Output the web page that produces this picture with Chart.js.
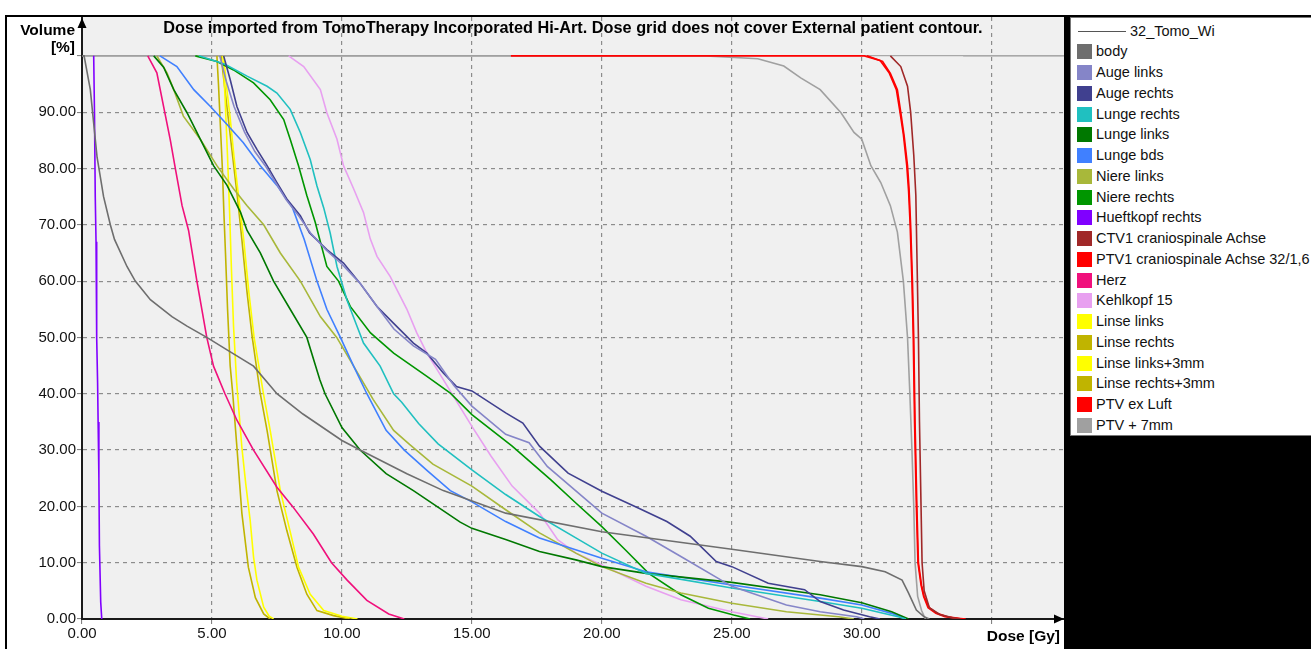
<!DOCTYPE html>
<html><head><meta charset="utf-8">
<script src="https://cdn.jsdelivr.net/npm/chart.js@4.4.0/dist/chart.umd.min.js"></script>
<style>
html,body{margin:0;padding:0;background:#fff;width:1311px;height:649px;overflow:hidden;position:relative;font-family:"Liberation Sans",Arial,sans-serif;}
#c{position:absolute;left:0;top:0;}
.frame{position:absolute;background:#000;}
#legend{position:absolute;left:1070px;top:17px;width:241px;height:419px;background:#fff;border:1px solid #777;border-right:none;box-sizing:border-box;overflow:hidden;}
.row{position:absolute;left:0;width:300px;height:20px;white-space:nowrap;font-size:14.5px;line-height:20px;color:#111;}
.sw{position:absolute;left:6px;top:3px;width:15px;height:15px}
.ln{position:absolute;left:7px;top:10px;width:48px;height:1px;background:#555}
.txt{position:absolute;left:25px;top:0}
</style></head><body>
<canvas id="c" width="1311" height="649"></canvas>
<div class="frame" style="left:5px;top:15px;width:1306px;height:2px"></div>
<div class="frame" style="left:5px;top:15px;width:2px;height:634px"></div>
<div class="frame" style="left:1064px;top:15px;width:6px;height:634px"></div>
<div class="frame" style="left:1064px;top:436px;width:247px;height:213px"></div>
<div id="legend"></div>
<script>
// ---- tick labels / axes ----
const xTicks = [0, 5, 10, 15, 20, 25, 30, 35];
const yTicks = [0, 10, 20, 30, 40, 50, 60, 70, 80, 90, 100];
const chartTitle = "Dose imported from TomoTherapy Incorporated Hi-Art. Dose grid does not cover External patient contour.";
const planName = "32_Tomo_Wi";

// ---- structure names & colours ----
const names = ["body","Auge links","Auge rechts","Lunge rechts","Lunge links","Lunge bds","Niere links","Niere rechts","Hueftkopf rechts","CTV1 craniospinale Achse","PTV1 craniospinale Achse 32/1,6","Herz","Kehlkopf 15","Linse links","Linse rechts","Linse links+3mm","Linse rechts+3mm","PTV ex Luft","PTV + 7mm"];
const colors = ["#6e6e6e","#8585c8","#40408f","#20c0c0","#007800","#4080ff","#a8b83a","#009600","#8000ff","#a02828","#ff0000","#f0107c","#e8a0f0","#ffff00","#c0b400","#ffff00","#c0b400","#ff0000","#a0a0a0"];

// ---- DVH curves: dose [Gy] / volume [%] ----
const bodyDose = [0,0.08,0.32,0.45,0.58,0.83,1.09,1.25,1.73,2.05,2.63,3.46,4.04,4.8,5.58,6.6,7.5,8.5,10.0,10.7,12.5,13.9,16.3,20.0,25.0,28.4,30.0,30.9,31.55,31.8,32.1,32.4,32.6];
const bodyVol  = [100,100,94,88,82,75,70,67.4,62.6,60,56.7,53.7,52,50,47.8,44.9,40,36.4,31.7,30,25.8,22.8,18.8,15.5,12.4,10.2,9.3,8.4,6.9,4.6,1.6,0.4,0];

const augeLDose = [5.3,5.55,5.85,6.25,6.65,7.05,7.45,7.85,8.35,8.8,9.4,10.0,10.7,11.35,12.0,12.75,13.6,14.3,15,16.3,17.2,17.9,20,21.7,23.04,25,27.1,28.4,29.8,30.1];
const augeLVol  = [100,95.5,91,86.5,83,80.5,77.5,74.5,71.5,68.5,65.5,63,59.6,55.5,51.5,48.5,46.1,41.5,37.8,32.8,31.3,27.1,18.8,14.7,11.1,5.8,2.5,1.3,0.4,0];

const augeRDose = [5.45,5.7,5.96,6.35,6.73,7.12,7.5,7.88,8.4,8.75,9.42,10.06,10.7,11.35,11.99,12.75,13.27,13.9,14.4,15,16.3,16.96,17.6,18.7,20,21.4,22.5,23.4,24.4,25,26.4,27.8,28.4,29.3,30.3,30.7];
const augeRVol  = [100,95.8,91,86.4,83.4,80.5,77.5,74.6,71.6,68.6,65.6,63.2,59.6,55.5,52.5,49,47.2,43.7,41.3,40.5,36.6,34.8,30.7,25.9,22.7,19.7,17.3,14.7,10.2,9.3,6.35,5.2,3.1,1.6,0.4,0];

const lungeRDose = [4.5,5.5,6.35,7.12,7.5,8.01,8.4,8.78,9.04,9.3,9.55,9.81,10.19,10.58,10.83,11.47,11.99,12.3,12.95,13.7,15,16.3,17.6,19,20,21.7,25,28.4,30,31.4,31.7];
const lungeRVol  = [100,98.5,96.4,94.6,93.4,90.5,86.4,81.6,76.9,73,68.5,62.6,56.7,52,49,44.9,40,38.5,34.7,31.1,26.5,22.1,18.2,14.4,11.7,8.1,5.5,3.1,1.9,0.4,0];

const lungeLDose = [2.76,3.14,3.53,4.04,4.55,5.06,5.58,6.1,6.35,6.86,7.37,8.01,8.65,9.15,9.35,10,10.7,11.7,12.75,13.65,14.55,15,16.3,17.6,19,20,21.7,25,28.4,30,31.15,31.8];
const lungeLVol  = [100,98,94,89.9,85.2,80.5,77,72.2,69,65,60,55,50,42.5,40,34,30,25.8,22.8,20,17.2,16.1,14.1,12,10.5,9.3,8.1,6.5,4.3,2.9,1.3,0];

const lungeBDose = [3.0,3.65,4.3,4.94,5.58,6.2,6.86,7.5,8.1,8.55,9.04,9.42,9.94,10.45,10.96,11.7,12.4,13.27,14.17,15,16.3,17.6,20,21.7,25,28.4,30,31.15,31.7];
const lungeBVol  = [100,98.1,94,91,87.8,84.6,80.5,77,73,67.4,60,55,50,44.9,40,33.5,30,26.4,22.8,20.8,17.3,14.4,10.8,8.4,6.05,3.7,2.5,1.0,0];

const niereLDose = [2.88,3.27,3.53,3.9,4.55,5.19,5.83,6.35,6.99,7.63,8.4,9.17,9.8,10.45,11.2,11.99,12.6,13.5,15,16.3,17.6,19,20,21.7,23.04,25,27.1,29.1,29.7];
const niereLVol  = [100,97,94,89.3,85.2,80.5,76.4,73.4,70,65,60,53.7,50,44.9,39,33.5,31,27.5,23.6,19.4,15.3,11.7,9.3,6.35,4.6,2.8,1.3,0.4,0];

const niereRDose = [4.36,5.19,5.83,6.6,7.24,7.76,8.01,8.33,8.65,8.97,9.42,9.87,10.32,11.1,11.99,13.27,14.17,15,16.55,18.04,19,20,20.9,21.8,23.04,24.1,25.07,25.7];
const niereRVol  = [100,99,97.5,95.2,92.2,88.7,85.2,80.5,75.2,70.5,62.6,60,55.5,50.8,47.2,43.1,40.1,36.3,30.7,24.7,20.6,16.4,12.3,8.1,4.3,1.9,0.7,0];

const hueftDose = [0.45,0.48,0.51,0.54,0.56,0.57,0.6,0.62,0.65,0.67,0.72,0.76];
const hueftVol  = [100,90,75,67,60,50,42,35,25,13,3,0];

const ctvDose = [31.1,31.5,31.76,31.88,32.0,32.08,32.12,32.18,32.22,32.28,32.32,32.4,32.6,33.0,33.5,33.8];
const ctvVol  = [100,98.1,94.6,90,82.4,75.2,65,50,35,20,10,5,2,0.8,0.2,0];

const ptv1Dose = [30.2,30.8,31.1,31.37,31.5,31.63,31.76,31.82,31.88,31.95,32.0,32.05,32.12,32.18,32.3,32.4,32.6,32.9,33.3,33.8,34.0];
const ptv1Vol  = [100,99,96.9,94,90,85.8,80.5,76.4,70,60,50,35,20,10,6,4,2,1,0.4,0.1,0];

const herzDose = [2.53,2.88,3.14,3.4,3.59,3.85,4.1,4.42,4.8,5.06,5.5,5.96,6.6,7.5,8.1,8.9,9.6,10.2,10.96,11.8,12.4];
const herzVol  = [100,97,91,85,80,73.4,69,60,50,44.9,40,35.3,30,23.4,20,15.1,10,6.9,3.3,0.9,0];

const kehlDose = [7.95,8.53,9.17,9.42,9.81,10.06,10.45,10.83,11.09,11.35,11.86,12.5,12.88,13.27,13.9,14.3,15,15.74,16.55,17.6,18.3,19,20,21.7,23.04,25,26.4];
const kehlVol  = [100,98.1,94,89.9,85.2,80.5,76.4,72.2,67.5,64.4,60.8,55,50.8,47.2,42.5,39.5,34.2,28.9,23.6,18.8,14.1,11.7,9.6,5.8,3.4,1.3,0];

const linseLDose = [5.42,5.5,5.6,5.68,5.75,5.83,5.95,6.15,6.3,6.47,6.6,6.73,6.99,7.2,7.37];
const linseLVol  = [100,93,82,72,62,52,42,30.5,24,17.5,11,6.9,2.1,0.5,0];

const linseRDose = [5.19,5.25,5.32,5.4,5.46,5.52,5.6,5.7,5.8,5.96,6.15,6.4,6.67,6.99,7.24];
const linseRVol  = [100,95,88,80,72,65,55,45,40,30.5,18.8,9.2,3.8,0.9,0];

const linseL3Dose = [5.45,5.55,5.7,5.85,6.0,6.1,6.22,6.42,6.62,6.98,7.24,7.63,8.0,8.33,8.78,9.3,10.0,10.6];
const linseL3Vol  = [100,95,89,82,76,72,67.4,58,50,40,33.5,22.8,15.7,9.2,4.4,1.5,0.5,0];

const linseR3Dose = [5.35,5.45,5.6,5.75,5.9,6.0,6.15,6.35,6.55,6.86,7.12,7.5,7.88,8.27,8.65,9.04,9.68,10.3];
const linseR3Vol  = [100,96,90,84,78,74,67.4,58,50,40,33.5,22.8,15.7,9.2,4.4,1.5,0.6,0];

const ptvLuftDose = [16.5,30.1,30.7,31.05,31.33,31.47,31.6,31.73,31.8,31.86,31.93,31.98,32.03,32.1,32.16,32.28,32.38,32.55,32.85,33.2,33.7,33.9];
const ptvLuftVol  = [100,100,99.2,97,94,90,86,80.5,76,70,60,50,35,20,10,6,4,2,1,0.4,0.1,0];

const ptv7Dose = [0,24,26,27,27.65,28.4,29.2,29.7,30,30.35,30.73,31.1,31.37,31.6,31.76,31.85,31.93,32.0,32.05,32.15,32.3,32.45];
const ptv7Vol  = [100,100,99.5,98.2,96.1,94,89.9,86.4,85.2,80.5,77.5,73.4,68.7,60,50,40,30,20,10,4,1.5,0];

const doses = [bodyDose,augeLDose,augeRDose,lungeRDose,lungeLDose,lungeBDose,niereLDose,niereRDose,hueftDose,ctvDose,ptv1Dose,herzDose,kehlDose,linseLDose,linseRDose,linseL3Dose,linseR3Dose,ptvLuftDose,ptv7Dose];
const vols  = [bodyVol,augeLVol,augeRVol,lungeRVol,lungeLVol,lungeBVol,niereLVol,niereRVol,hueftVol,ctvVol,ptv1Vol,herzVol,kehlVol,linseLVol,linseRVol,linseL3Vol,linseR3Vol,ptvLuftVol,ptv7Vol];

const FONT = '"Liberation Sans", Arial, sans-serif';

const datasets = names.map((n, k) => ({
  label: n,
  data: doses[k].map((d, i) => ({x: d, y: vols[k][i]})),
  borderColor: colors[k],
  backgroundColor: colors[k],
  borderWidth: 1.6,
  pointRadius: 0,
  fill: false,
  tension: 0
}));

const decor = {
  id: 'decor',
  beforeDraw(chart) {
    const {ctx, chartArea: a} = chart;
    ctx.save();
    ctx.fillStyle = '#f0f0f0';
    ctx.fillRect(a.left, a.top, a.right - a.left, a.bottom - a.top);
    ctx.restore();
  },
  afterDraw(chart) {
    const {ctx, chartArea: a, scales} = chart;
    const yTop = scales.y.getPixelForValue(100);
    const xEnd = scales.x.getPixelForValue(33.9);
    ctx.save();
    // 100% reference line beyond the last curve
    ctx.strokeStyle = '#a8a8a8'; ctx.lineWidth = 1.5;
    ctx.beginPath(); ctx.moveTo(xEnd, yTop); ctx.lineTo(a.right, yTop); ctx.stroke();
    // arrows
    ctx.fillStyle = '#000';
    ctx.beginPath(); ctx.moveTo(a.left, a.top + 1); ctx.lineTo(a.left - 4.5, a.top + 11); ctx.lineTo(a.left + 4.5, a.top + 11); ctx.closePath(); ctx.fill();
    ctx.beginPath(); ctx.moveTo(a.right, a.bottom); ctx.lineTo(a.right - 10, a.bottom - 4.5); ctx.lineTo(a.right - 10, a.bottom + 4.5); ctx.closePath(); ctx.fill();
    // texts
    ctx.fillStyle = '#000';
    ctx.textBaseline = 'alphabetic';
    ctx.font = 'bold 16.3px ' + FONT;
    ctx.textAlign = 'center';
    ctx.fillText(chartTitle, (a.left + a.right) / 2, 33);
    ctx.font = 'bold 15.5px ' + FONT;
    ctx.textAlign = 'right';
    ctx.fillText('Volume', 75, 35);
    ctx.fillText('[%]', 75, 52);
    ctx.fillText('Dose [Gy]', 1060, 641);
    ctx.restore();
  }
};

const gridOpts = {
  color: c => (c.tick && c.tick.value === 100) ? '#a8a8a8' : '#8c8c8c',
  lineWidth: 1.2,
  drawTicks: true,
  tickLength: 5,
  tickColor: '#777',
  tickWidth: 1
};
const borderOpts = {display: true, color: '#1a1a1a', width: 2, dash: c => (c.tick && c.tick.value === 100) ? [] : [4, 4]};

new Chart(document.getElementById('c'), {
  type: 'line',
  data: {datasets},
  plugins: [decor],
  options: {
    responsive: false,
    animation: false,
    devicePixelRatio: 1,
    layout: {padding: {left: 0, top: 17, right: 247, bottom: 0}},
    plugins: {legend: {display: false}, tooltip: {enabled: false}, title: {display: false}},
    scales: {
      x: {
        type: 'linear', min: 0, max: 37.78,
        afterBuildTicks: s => { s.ticks = xTicks.map(v => ({value: v})); },
        afterFit: s => { s.height = 30; },
        ticks: {callback: v => v === 35 ? '' : Number(v).toFixed(2), padding: 1, maxRotation: 0, autoSkip: false, color: '#111', font: {family: FONT, size: 15}},
        grid: gridOpts,
        border: borderOpts
      },
      y: {
        type: 'linear', min: 0, max: 106.9,
        afterBuildTicks: s => { s.ticks = yTicks.map(v => ({value: v})); },
        afterFit: s => { s.width = 82; },
        ticks: {callback: v => v === 100 ? '' : Number(v).toFixed(2), padding: 1, autoSkip: false, color: '#111', font: {family: FONT, size: 15}},
        grid: gridOpts,
        border: borderOpts
      }
    }
  }
});

// ---- legend built from the same arrays ----
const leg = document.getElementById('legend');
const rowH = 20.75;
const rowTop = 2.7;
const first = document.createElement('div');
first.className = 'row'; first.style.top = rowTop + 'px';
first.innerHTML = '<div class="ln"></div><div class="txt" style="left:59px">' + planName + '</div>';
leg.appendChild(first);
names.forEach((n, k) => {
  const r = document.createElement('div');
  r.className = 'row';
  r.style.top = (rowTop + rowH * (k + 1)) + 'px';
  const sw = document.createElement('div'); sw.className = 'sw'; sw.style.background = colors[k];
  const t = document.createElement('div'); t.className = 'txt'; t.textContent = n;
  r.appendChild(sw); r.appendChild(t);
  leg.appendChild(r);
});
</script>
</body></html>
